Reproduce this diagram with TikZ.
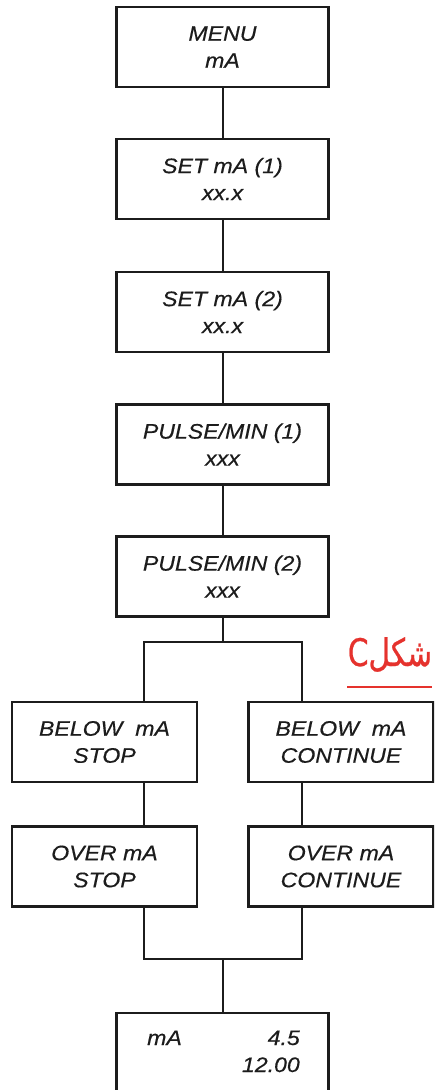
\documentclass[tikz,border=0pt]{standalone}
\usepackage{fontspec}
\TeXXeTstate=1
\newfontfamily\boxfont{Liberation Sans}[FakeStretch=1.1,FakeBold=0.4]
\newfontfamily\arabicfont[Script=Arabic,FakeStretch=0.78,FakeBold=0.6]{DejaVu Sans}
\definecolor{ink}{HTML}{1C1C1C}
\definecolor{capred}{HTML}{E5322D}
\tikzset{
  box/.style={draw=ink, line width=2.2pt, fill=white, minimum height=80pt,
    align=center, inner sep=0pt, text=ink,
    font=\boxfont\itshape\fontsize{21}{27}\selectfont},
  widebox/.style={box, minimum width=212pt},
  sidebox/.style={box, minimum width=185pt},
  link/.style={draw=ink, line width=2pt},
  lbl/.style={text=ink, inner sep=0pt, font=\boxfont\itshape\fontsize{21}{27}\selectfont}
}
\begin{document}
\begin{tikzpicture}[x=1pt,y=-1pt]
\useasboundingbox (0,0) rectangle (434,1090);
\clip (0,0) rectangle (434,1090);
\node[widebox] (b1) at (222.5,47) {MENU\\mA};
\node[widebox] (b2) at (222.5,179) {SET mA (1)\\xx.x};
\node[widebox] (b3) at (222.5,312) {SET mA (2)\\xx.x};
\node[widebox] (b4) at (222.5,444.5) {PULSE/MIN (1)\\xxx};
\node[widebox] (b5) at (222.5,576.5) {PULSE/MIN (2)\\xxx};
\node[sidebox] (bl) at (104.5,742) {BELOW\ \ mA\\STOP};
\node[sidebox] (br) at (341,742) {BELOW\ \ mA\\CONTINUE};
\node[sidebox] (ol) at (104.5,866.5) {OVER mA\\STOP};
\node[sidebox] (or) at (341,866.5) {OVER mA\\CONTINUE};
\node[widebox, minimum height=130pt] (last) at (222.5,1078) {};
\node[lbl, anchor=base west] (t1) at (147,1045) {mA};
\node[lbl, anchor=base east] (t2) at (300,1045) {4.5};
\node[lbl, anchor=base east] (t3) at (300,1072) {12.00};
\coordinate (jl) at (144,642);
\coordinate (jr) at (302,642);
\coordinate (kl) at (144,959);
\coordinate (kr) at (302,959);
\coordinate (jt) at (b5.south |- jl);
\coordinate (kt) at (last.north |- kl);
\draw[link] (b1.south) -- (b2.north);
\draw[link] (b2.south) -- (b3.north);
\draw[link] (b3.south) -- (b4.north);
\draw[link] (b4.south) -- (b5.north);
\draw[link] (b5.south) -- (jt);
\draw[link] (jl |- bl.north) -- (jl) -- (jr) -- (jr |- br.north);
\draw[link] (jl |- bl.south) -- (jl |- ol.north);
\draw[link] (jr |- br.south) -- (jr |- or.north);
\draw[link] (kl |- ol.south) -- (kl) -- (kr) -- (kr |- or.south);
\draw[link] (kt) -- (last.north);
\node[text=capred, inner sep=0pt, anchor=base, font=\arabicfont\fontsize{38}{44}\selectfont] (cap) at (390,666) {\beginR شکلC\endR};
\coordinate (u1) at (347,687);
\coordinate (u2) at (432,687);
\draw[capred, line width=2pt] (u1) -- (u2);
\end{tikzpicture}
\end{document}
